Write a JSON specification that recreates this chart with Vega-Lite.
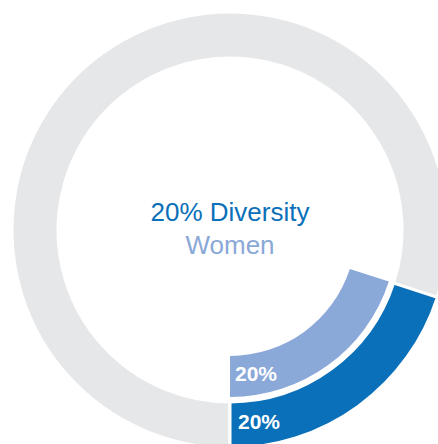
{
  "$schema": "https://vega.github.io/schema/vega-lite/v6.json",
  "width": 460,
  "height": 460,
  "autosize": {"type": "none"},
  "padding": 0,
  "background": "white",
  "config": {"view": {"stroke": null}, "font": "Liberation Sans"},
  "datasets": {
    "rings": [
      {"ring": "outer", "part": "rest", "start": 20, "end": 100, "label": ""},
      {"ring": "outer", "part": "Diversity", "start": 0, "end": 20, "label": "20%"},
      {"ring": "inner", "part": "Women", "start": 0, "end": 20, "label": "20%"}
    ],
    "center": [
      {"line": "20% Diversity", "kind": "Diversity"},
      {"line": "Women", "kind": "Women"}
    ]
  },
  "layer": [
    {
      "data": {"name": "rings"},
      "transform": [{"filter": "datum.ring === 'outer'"}],
      "mark": {"type": "arc", "radius": 218, "radius2": 172, "stroke": "white", "strokeWidth": 3},
      "encoding": {
        "theta": {"field": "start", "type": "quantitative", "stack": null, "scale": {"domain": [0, 100], "range": [3.14159265, -3.14159265]}},
        "theta2": {"field": "end"},
        "color": {"field": "part", "type": "nominal", "scale": {"domain": ["rest", "Diversity", "Women"], "range": ["#e6e7e9", "#0a70b9", "#8aa8d8"]}, "legend": null}
      }
    },
    {
      "data": {"name": "rings"},
      "transform": [{"filter": "datum.ring === 'inner'"}],
      "mark": {"type": "arc", "radius": 167, "radius2": 126},
      "encoding": {
        "theta": {"field": "start", "type": "quantitative", "stack": null},
        "theta2": {"field": "end"},
        "color": {"field": "part", "type": "nominal", "legend": null}
      }
    },
    {
      "data": {"name": "rings"},
      "transform": [{"filter": "datum.ring === 'inner'"}],
      "mark": {"type": "text", "radius": 145, "align": "left", "baseline": "middle", "dx": 5, "fontSize": 21, "fontWeight": "bold", "color": "white"},
      "encoding": {
        "theta": {"field": "start", "type": "quantitative", "stack": null},
        "text": {"field": "label"}
      }
    },
    {
      "data": {"name": "rings"},
      "transform": [{"filter": "datum.ring === 'outer' && datum.part === 'Diversity'"}],
      "mark": {"type": "text", "radius": 193, "align": "left", "baseline": "middle", "dx": 8, "fontSize": 21, "fontWeight": "bold", "color": "white"},
      "encoding": {
        "theta": {"field": "start", "type": "quantitative", "stack": null},
        "text": {"field": "label"}
      }
    },
    {
      "data": {"name": "center"},
      "transform": [{"filter": "datum.kind === 'Diversity'"}],
      "mark": {"type": "text", "align": "center", "baseline": "alphabetic", "dy": -9, "fontSize": 26, "color": "#0a70b9"},
      "encoding": {"text": {"field": "line"}}
    },
    {
      "data": {"name": "center"},
      "transform": [{"filter": "datum.kind === 'Women'"}],
      "mark": {"type": "text", "align": "center", "baseline": "alphabetic", "dy": 24, "fontSize": 26, "color": "#8aa8d8"},
      "encoding": {"text": {"field": "line"}}
    }
  ]
}
